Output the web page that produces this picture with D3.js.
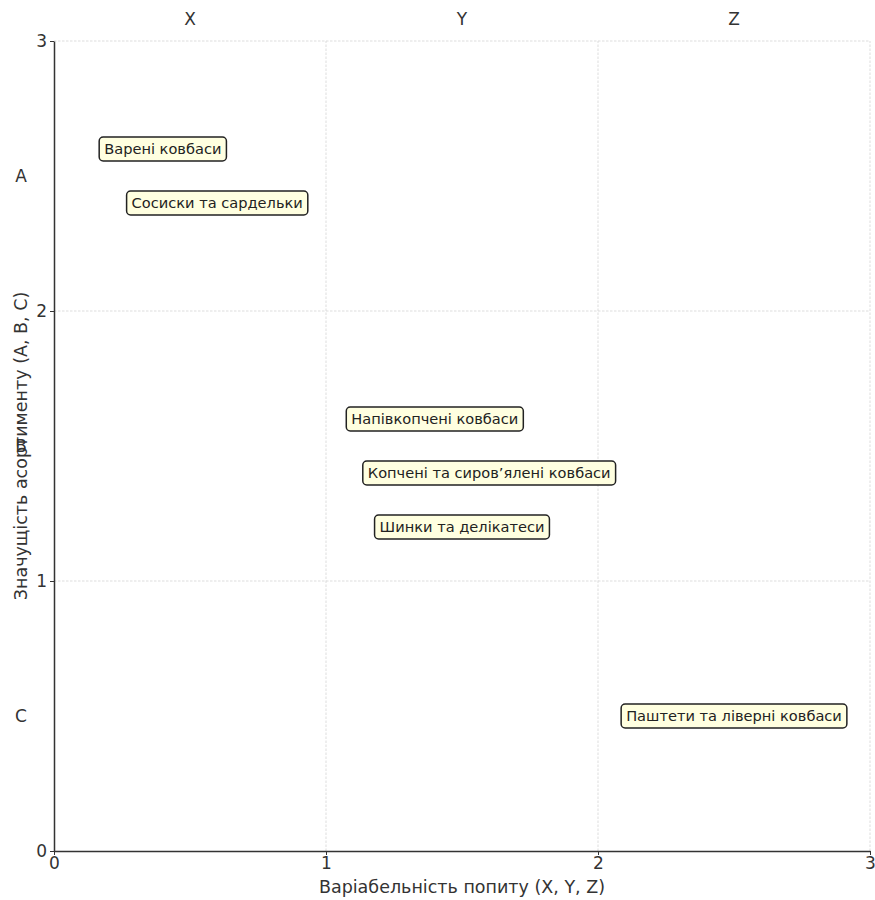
<!DOCTYPE html>
<html><head><meta charset="utf-8">
<script src="https://cdn.jsdelivr.net/npm/d3@7"></script>
<style>body{margin:0;background:#fff;} svg{display:block;font-family:"DejaVu Sans",sans-serif;}</style>
</head><body>
<svg id="c" width="875" height="900"></svg>
<script>
const categories = ["Варені ковбаси","Сосиски та сардельки","Напівкопчені ковбаси","Копчені та сиров’ялені ковбаси","Шинки та делікатеси","Паштети та ліверні ковбаси"];
const xValues = [0.4, 0.6, 1.4, 1.6, 1.5, 2.5];
const yValues = [2.6, 2.4, 1.6, 1.4, 1.2, 0.5];
const xTicks = [0,1,2,3];
const yTicks = [0,1,2,3];
const xClassLabels = ["X","Y","Z"];
const xClassPos = [0.5,1.5,2.5];
const yClassLabels = ["A","B","C"];
const yClassPos = [2.5,1.5,0.5];

const svg = d3.select("#c");
const x = d3.scaleLinear().domain([0,3]).range([54,870]);
const y = d3.scaleLinear().domain([0,3]).range([851,41]);
const axisColor = "#333";

// grid
const g = svg.append("g");
g.selectAll("line.vx").data(xTicks.slice(1)).join("line")
  .attr("x1",d=>x(d)).attr("x2",d=>x(d)).attr("y1",y(0)).attr("y2",y(3))
  .attr("stroke","#d4d4d4").attr("stroke-dasharray","2.5,1.5").attr("stroke-width",0.8);
g.selectAll("line.hy").data(yTicks.slice(1)).join("line")
  .attr("y1",d=>y(d)).attr("y2",d=>y(d)).attr("x1",x(0)).attr("x2",x(3))
  .attr("stroke","#d4d4d4").attr("stroke-dasharray","2.5,1.5").attr("stroke-width",0.8);

// axes
const xAxis = svg.append("g").attr("transform",`translate(0,${y(0)})`)
  .call(d3.axisBottom(x).tickValues(xTicks).tickFormat(d3.format("d")).tickSizeInner(4).tickSizeOuter(0).tickPadding(2));
const yAxis = svg.append("g").attr("transform",`translate(${x(0)},0)`)
  .call(d3.axisLeft(y).tickValues(yTicks).tickFormat(d3.format("d")).tickSizeInner(4).tickSizeOuter(0).tickPadding(3));
[xAxis,yAxis].forEach(a=>{
  a.attr("font-size",null).attr("font-family",null);
  a.select(".domain").attr("stroke",axisColor).attr("stroke-width",1.5);
  a.selectAll(".tick line").attr("stroke",axisColor).attr("stroke-width",1);
  a.selectAll(".tick text").attr("fill",axisColor).style("font-size","17px");
});

// class labels
svg.selectAll("text.xc").data(xClassLabels).join("text")
  .attr("x",(d,i)=>x(xClassPos[i])).attr("y",25).attr("text-anchor","middle")
  .attr("fill",axisColor).style("font-size","17px").text(d=>d);
svg.selectAll("text.yc").data(yClassLabels).join("text")
  .attr("x",21).attr("y",(d,i)=>y(yClassPos[i])+6).attr("text-anchor","middle")
  .attr("fill",axisColor).style("font-size","17px").text(d=>d);

// axis titles
svg.append("text").attr("x",(x(0)+x(3))/2).attr("y",893).attr("text-anchor","middle")
  .attr("fill",axisColor).style("font-size","17.5px").text("Варіабельність попиту (X, Y, Z)");
svg.append("text").attr("transform",`translate(27,${(y(0)+y(3))/2}) rotate(-90)`).attr("text-anchor","middle")
  .attr("fill",axisColor).style("font-size","17.5px").text("Значущість асортименту (A, B, C)");

// annotations
const ann = svg.selectAll("g.ann").data(categories).join("g")
  .attr("transform",(d,i)=>`translate(${x(xValues[i])},${y(yValues[i])})`);
ann.each(function(d){
  const gg = d3.select(this);
  const t = gg.append("text").attr("text-anchor","middle").attr("dy","0.35em")
    .attr("fill","#222").style("font-size","14.6px").text(d);
  const bb = t.node().getBBox();
  gg.insert("rect","text").attr("x",bb.x-5).attr("y",-12).attr("width",bb.width+10).attr("height",24)
    .attr("rx",4).attr("fill","#ffffe0").attr("stroke","#222").attr("stroke-width",1.5);
});
</script>
</body></html>
